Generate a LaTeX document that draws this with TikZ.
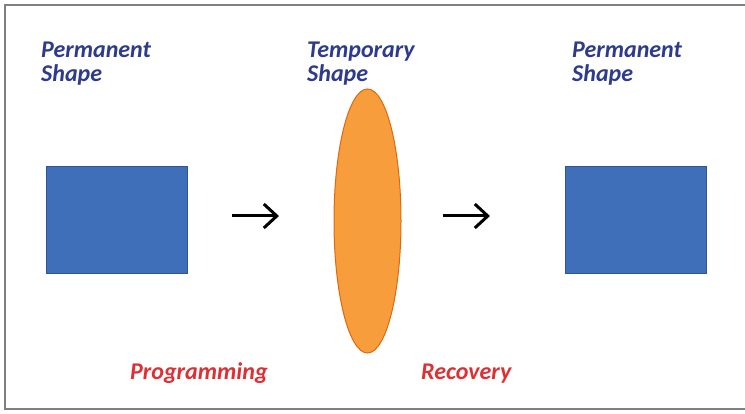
\documentclass[tikz,border=0pt]{standalone}
\usepackage{fontspec}
\setmainfont{Carlito}
\usetikzlibrary{shapes.geometric,arrows.meta}

\definecolor{shapeblue}{HTML}{3F6FB8}
\definecolor{shapeedge}{HTML}{2F5597}
\definecolor{tempfill}{HTML}{F79D3B}
\definecolor{tempedge}{HTML}{E0680F}
\definecolor{labelblue}{HTML}{2E3A8C}
\definecolor{labelred}{HTML}{DE3033}

\begin{document}
\begin{tikzpicture}[x=1pt,y=-1pt,
	shapelabel/.style={anchor=north west,inner sep=0pt,align=left,text=labelblue,
		font=\fontsize{24}{24}\selectfont\bfseries\itshape},
	steplabel/.style={anchor=base west,inner sep=0pt,text=labelred,
		font=\fontsize{24}{24}\selectfont\bfseries\itshape},
	permbox/.style={draw=shapeedge,fill=shapeblue,line width=1pt,inner sep=0pt,
		minimum width=141pt,minimum height=107pt},
	stage/.style={line width=3pt,-{Straight Barb[length=13pt,width=24pt,line width=3pt]}}]
	\useasboundingbox (0,0) rectangle (745,414);
	\draw[gray,line width=1.8pt] (750,5) -- (5,5) -- (5,409) -- (750,409);
	% shapes
	\node[permbox] (before) at (116.5,220.5) {};
	\node[ellipse,draw=tempedge,fill=tempfill,line width=1pt,inner sep=0pt,
		minimum width=67pt,minimum height=264pt] (temp) at (367.5,221) {};
	\node[permbox] (after) at (636,220.5) {};
	% arrows
	\coordinate (p1) at (232,216); \coordinate (p2) at (279,216);
	\coordinate (r1) at (443,216); \coordinate (r2) at (490,216);
	\draw[stage] (p1) -- (p2);
	\draw[stage] (r1) -- (r2);
	% labels
	\node[shapelabel] (lperm) at (41,42) {Permanent\\Shape};
	\node[shapelabel] (ltemp) at (307,42) {Temporary\\Shape};
	\node[shapelabel] (rperm) at (572,42) {Permanent\\Shape};
	\node[steplabel] (prog) at (130,379) {Programming};
	\node[steplabel] (rec) at (421,379) {Recovery};
\end{tikzpicture}
\end{document}
